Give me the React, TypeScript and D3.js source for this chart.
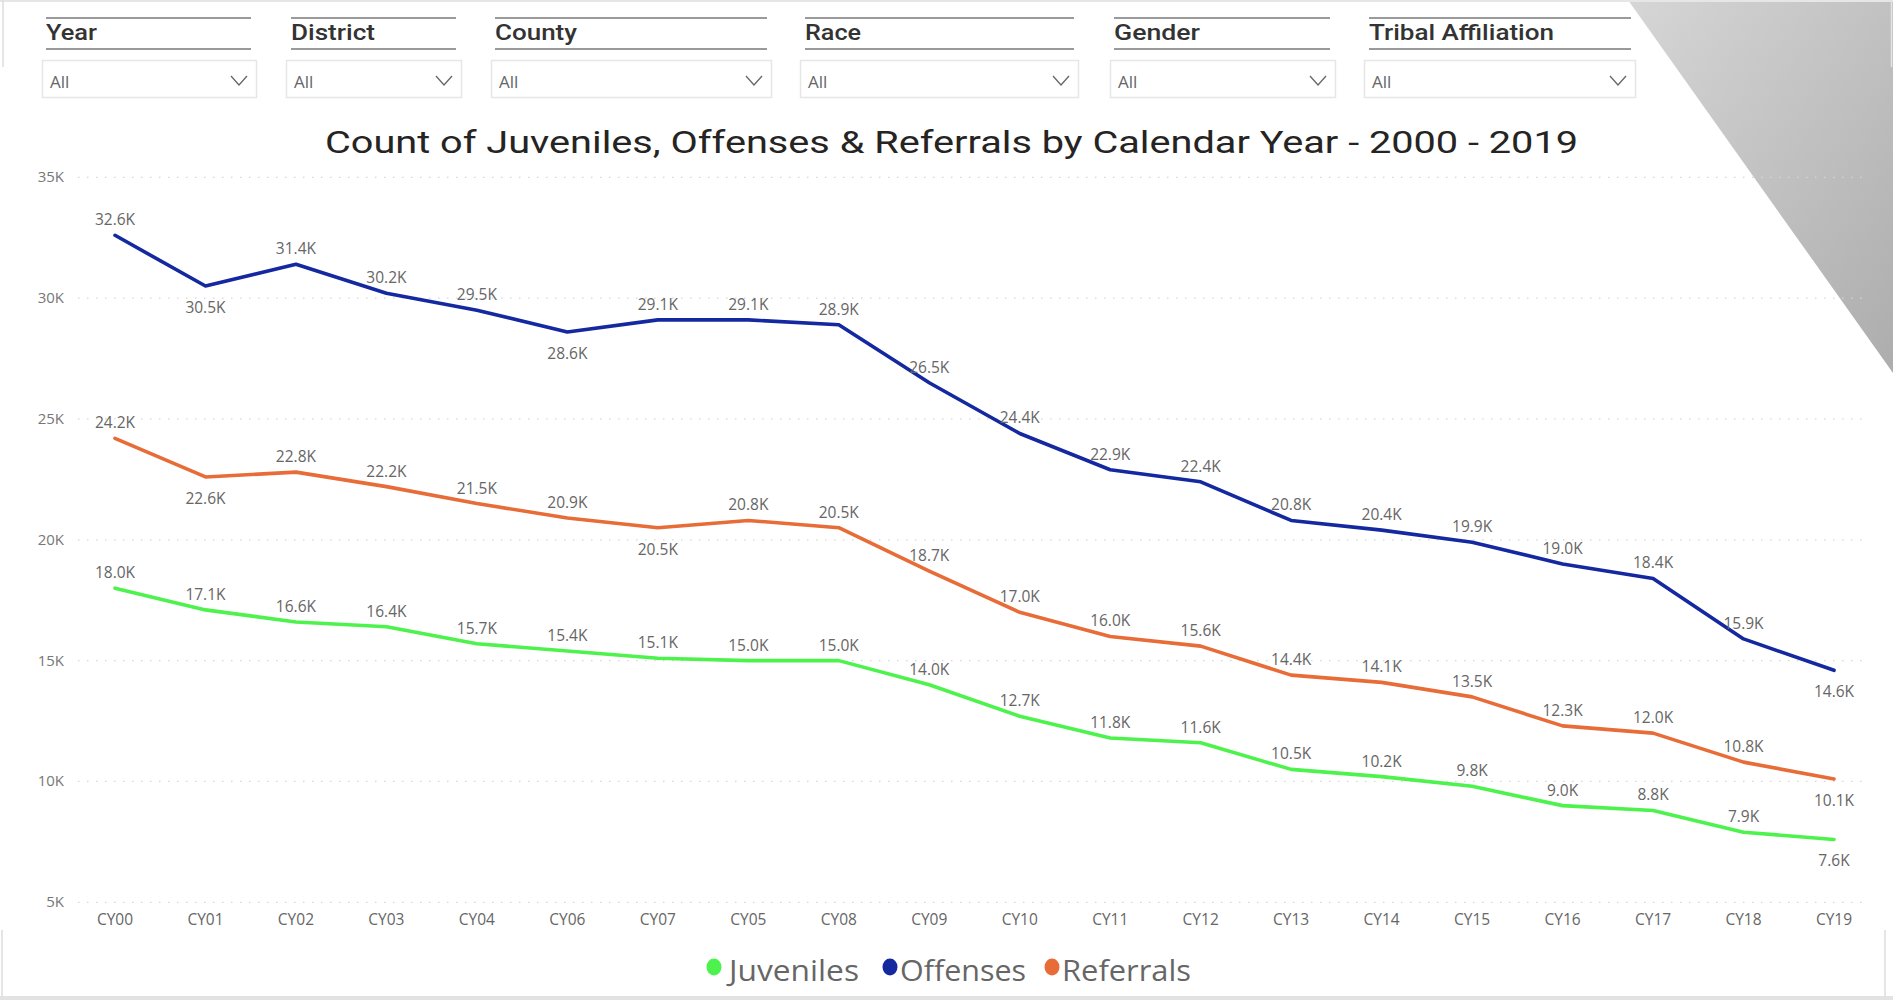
import React from "react";
import * as d3 from "d3";

const categories = ["CY00","CY01","CY02","CY03","CY04","CY06","CY07","CY05","CY08","CY09","CY10","CY11","CY12","CY13","CY14","CY15","CY16","CY17","CY18","CY19"];
const offenses = [32.6,30.5,31.4,30.2,29.5,28.6,29.1,29.1,28.9,26.5,24.4,22.9,22.4,20.8,20.4,19.9,19.0,18.4,15.9,14.6];
const referrals = [24.2,22.6,22.8,22.2,21.5,20.9,20.5,20.8,20.5,18.7,17.0,16.0,15.6,14.4,14.1,13.5,12.3,12.0,10.8,10.1];
const juveniles = [18.0,17.1,16.6,16.4,15.7,15.4,15.1,15.0,15.0,14.0,12.7,11.8,11.6,10.5,10.2,9.8,9.0,8.8,7.9,7.6];
// label placement: 1 = above, -1 = below
const offensesPos = [1,-1,1,1,1,-1,1,1,1,1,1,1,1,1,1,1,1,1,1,-1];
const referralsPos = [1,-1,1,1,1,1,-1,1,1,1,1,1,1,1,1,1,1,1,1,-1];
const juvenilesPos = [1,1,1,1,1,1,1,1,1,1,1,1,1,1,1,1,1,1,1,-1];
const yTicks = [5,10,15,20,25,30,35];
const slicers = ["Year","District","County","Race","Gender","Tribal Affiliation"];
const slicerValue = "All";
const title = "Count of Juveniles, Offenses & Referrals by Calendar Year - 2000 - 2019";

const series = [
  { name: "Juveniles", values: juveniles, pos: juvenilesPos, color: "#4df24d" },
  { name: "Offenses", values: offenses, pos: offensesPos, color: "#1428a0" },
  { name: "Referrals", values: referrals, pos: referralsPos, color: "#e86c37" },
];

const slicerLayout = [
  { lx: 46, lw: 205, bx: 42, bw: 214, tw: 51 },
  { lx: 291, lw: 165, bx: 286, bw: 175, tw: 84 },
  { lx: 495, lw: 272, bx: 491, bw: 280, tw: 82 },
  { lx: 805, lw: 269, bx: 800, bw: 278, tw: 56 },
  { lx: 1114, lw: 216, bx: 1110, bw: 225, tw: 86 },
  { lx: 1369, lw: 262, bx: 1364, bw: 271, tw: 185 },
];

const legendLayout = [
  { dot: 714, tx: 729, tw: 130 },
  { dot: 890, tx: 900, tw: 126 },
  { dot: 1052, tx: 1062, tw: 129 },
];

export default function App() {
  const W = 1893, H = 1000;
  const x = d3.scalePoint<string>().domain(categories).range([115, 1834]);
  const y = d3.scaleLinear().domain([5, 35]).range([902.3, 177.3]);
  const line = d3.line<number>().x((_, i) => x(categories[i])!).y(d => y(d));
  const labelFont = "'Open Sans', 'Noto Sans', sans-serif";
  const fmt = (v: number) => v.toFixed(1) + "K";

  return (
    <svg width={W} height={H} style={{ position: "absolute", left: 0, top: 0, background: "#fff" }}>
      <defs>
        <linearGradient id="grayGrad" x1="0" y1="0" x2="1" y2="1">
          <stop offset="0%" stopColor="#d6d6d6" />
          <stop offset="100%" stopColor="#adadad" />
        </linearGradient>
      </defs>
      <rect x={0} y={0} width={W} height={H} fill="#fff" />
      <polygon points={`1628,0 ${W},0 ${W},373`} fill="url(#grayGrad)" />
      {/* frame borders */}
      <rect x={0} y={0} width={W} height={2} fill="#e6e6e6" />
      <rect x={0} y={996} width={W} height={4} fill="#e2e2e2" />
      <line x1={3} y1={0} x2={3} y2={67} stroke="#dddddd" strokeWidth={1.5} />
      <line x1={1891.5} y1={0} x2={1891.5} y2={67} stroke="#e4e4e4" strokeWidth={1.5} />
      <line x1={2} y1={930} x2={2} y2={997} stroke="#dddddd" strokeWidth={1.5} />
      <line x1={1885} y1={930} x2={1885} y2={997} stroke="#dddddd" strokeWidth={1.5} />

      {/* slicers */}
      {slicers.map((s, i) => {
        const L = slicerLayout[i];
        return (
          <g key={s}>
            <line x1={L.lx} x2={L.lx + L.lw} y1={18} y2={18} stroke="#9a9a9a" strokeWidth={2} />
            <line x1={L.lx} x2={L.lx + L.lw} y1={49} y2={49} stroke="#9a9a9a" strokeWidth={2} />
            <text x={L.lx} y={40} fontFamily="Roboto, 'Noto Sans', sans-serif" fontWeight={500} fontSize={22} fill="#333" textLength={L.tw} lengthAdjust="spacingAndGlyphs">{s}</text>
            <rect x={L.bx + 0.5} y={60.5} width={L.bw} height={37} fill="#fff" stroke="#e6e6e6" strokeWidth={1.5} />
            <text x={L.bx + 8} y={88} fontFamily={labelFont} fontSize={17} fill="#666">{slicerValue}</text>
            <polyline points={`${L.bx + L.bw - 25},76 ${L.bx + L.bw - 17},85 ${L.bx + L.bw - 9},76`} fill="none" stroke="#666" strokeWidth={1.3} />
          </g>
        );
      })}

      {/* title */}
      <text x={951.5} y={153} textAnchor="middle" fontFamily="Roboto, 'Noto Sans', sans-serif" fontSize={32} fill="#252423" textLength={1253} lengthAdjust="spacingAndGlyphs">{title}</text>

      {/* gridlines */}
      {yTicks.map(t => (
        <g key={t}>
          <line x1={78} x2={1866} y1={y(t)} y2={y(t)} stroke="#d6d6d6" strokeWidth={1.3} strokeDasharray="1.5,7.5" />
          <text x={64} y={y(t) + 5} textAnchor="end" fontFamily={labelFont} fontSize={15} fill="#777">{t}K</text>
        </g>
      ))}

      {/* x axis labels */}
      {categories.map(c => (
        <text key={c} x={x(c)} y={925} textAnchor="middle" fontFamily={labelFont} fontSize={15.5} fill="#666">{c}</text>
      ))}

      {/* lines */}
      {series.map(s => (
        <path key={s.name} d={line(s.values) || ""} fill="none" stroke={s.color} strokeWidth={3.6} strokeLinejoin="round" strokeLinecap="round" />
      ))}

      {/* data labels */}
      {series.map(s => (
        <g key={s.name + "-labels"}>
          {s.values.map((v, i) => (
            <text key={i} x={x(categories[i])} y={s.pos[i] > 0 ? y(v) - 10 : y(v) + 27} textAnchor="middle" fontFamily={labelFont} fontSize={15.5} fill="#666">{fmt(v)}</text>
          ))}
        </g>
      ))}

      {/* legend */}
      {series.map((s, i) => (
        <g key={s.name + "-legend"}>
          <ellipse cx={legendLayout[i].dot} cy={967} rx={7.5} ry={8.5} fill={s.color} />
          <text x={legendLayout[i].tx} y={981} fontFamily={labelFont} fontSize={29} fill="#666" textLength={legendLayout[i].tw} lengthAdjust="spacingAndGlyphs">{s.name}</text>
        </g>
      ))}
    </svg>
  );
}
